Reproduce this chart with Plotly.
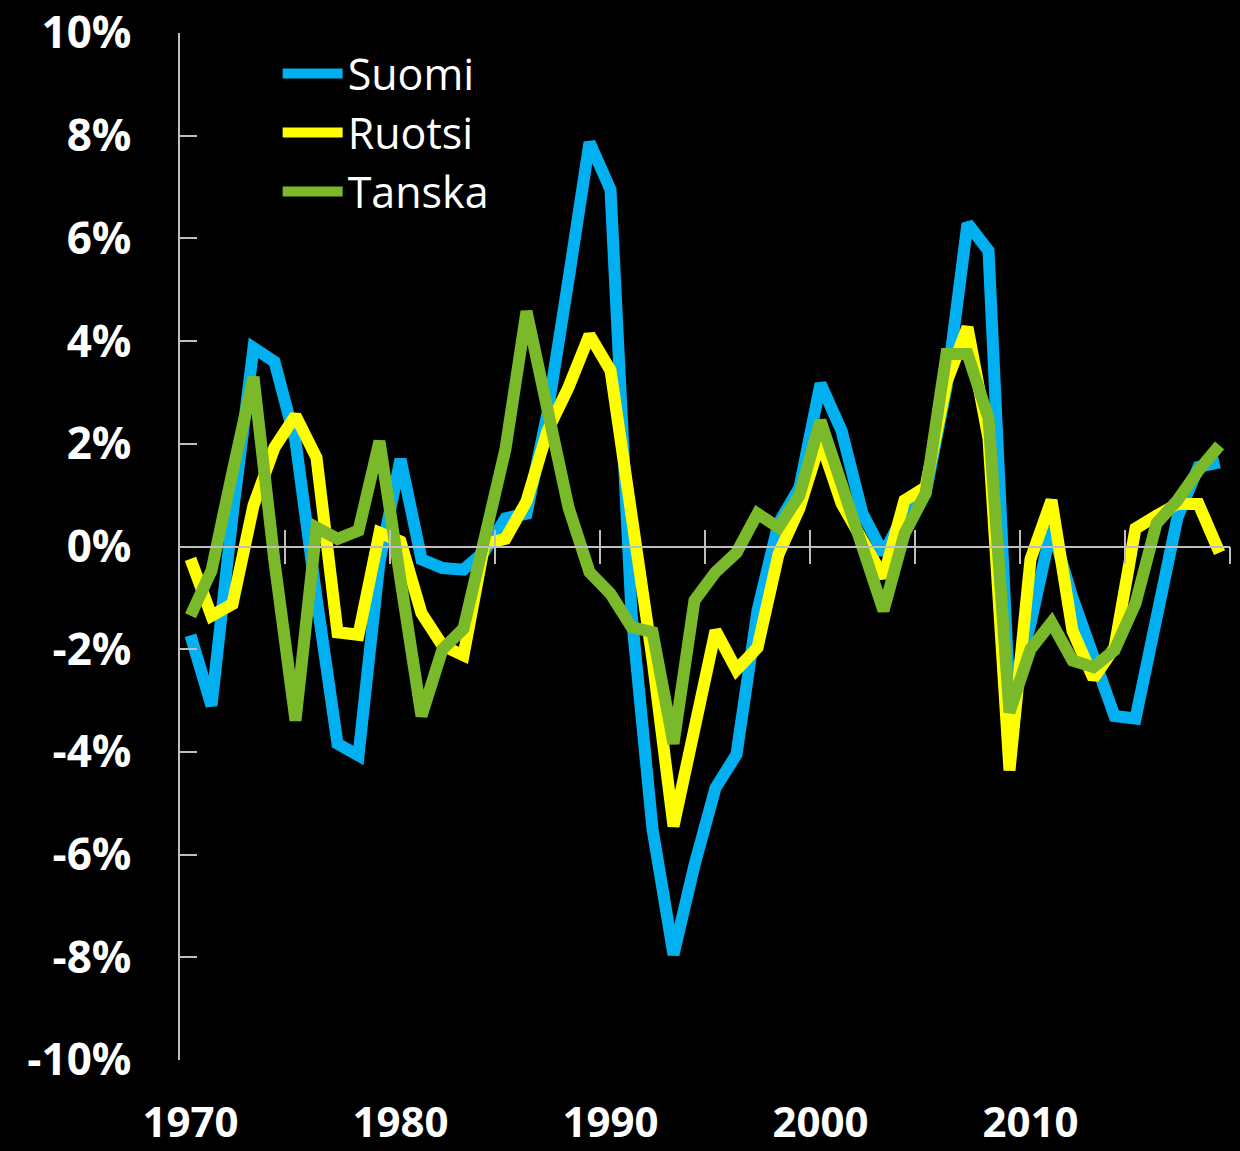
import plotly.graph_objects as go

years = list(range(1970, 2020))

suomi = [-1.73, -3.1, 0.6, 3.87, 3.6, 2.05, -1.0, -3.84, -4.07, -0.3,
         1.7, -0.25, -0.42, -0.45, -0.1, 0.55, 0.64, 2.6, 5.2, 7.87,
         6.95, -1.3, -5.5, -7.95, -6.2, -4.7, -4.05, -1.25, 0.45, 1.15,
         3.17, 2.26, 0.64, -0.14, 0.65, 1.03, 3.1, 6.29, 5.76, -3.0,
         -1.5, 0.37, -1.0, -2.2, -3.3, -3.35, -1.38, 0.57, 1.55, 1.64]

ruotsi = [-0.24, -1.35, -1.12, 0.8, 1.93, 2.55, 1.73, -1.67, -1.72, 0.27,
          0.1, -1.3, -1.93, -2.12, 0.05, 0.15, 0.88, 2.25, 3.1, 4.12,
          3.43, 0.8, -2.2, -5.45, -3.45, -1.64, -2.4, -1.97, -0.15, 0.75,
          2.06, 0.84, 0.12, -0.6, 0.9, 1.15, 3.2, 4.27, 2.1, -4.36,
          -0.25, 0.9, -1.64, -2.57, -1.97, 0.35, 0.6, 0.83, 0.83, -0.12]

tanska = [-1.35, -0.47, 1.45, 3.3, -0.3, -3.39, 0.37, 0.15, 0.31, 2.05,
          -0.65, -3.3, -2.0, -1.6, 0.15, 1.9, 4.58, 2.7, 0.76, -0.5,
          -0.92, -1.57, -1.67, -3.84, -1.05, -0.5, -0.12, 0.64, 0.37, 1.0,
          2.45, 1.22, 0.06, -1.25, 0.25, 1.03, 3.75, 3.75, 2.5, -3.23,
          -2.0, -1.48, -2.22, -2.35, -2.02, -1.11, 0.45, 0.9, 1.48, 1.97]

series_names = ["Suomi", "Ruotsi", "Tanska"]
series_colors = ["#00B0F0", "#FFFF00", "#7AB929"]

y_ticks = [-10, -8, -6, -4, -2, 0, 2, 4, 6, 8, 10]
x_label_years = [1970, 1980, 1990, 2000, 2010]
x_tick_marks = [1974.5, 1979.5, 1984.5, 1989.5, 1994.5, 1999.5,
                2004.5, 2009.5, 2014.5, 2019.5]

axis_color = "#BFBFBF"

fig = go.Figure()
for name, vals, col in zip(series_names, [suomi, ruotsi, tanska], series_colors):
    fig.add_trace(go.Scatter(x=years, y=vals, mode="lines", name=name,
                             line=dict(color=col, width=12)))

# empty helper traces so the zero-line tick axes are drawn
for ax in ["x2", "x3"]:
    fig.add_trace(go.Scatter(x=[None], y=[None], xaxis=ax, yaxis="y",
                             mode="lines", showlegend=False, hoverinfo="skip"))

fig.update_layout(
    width=1240, height=1151,
    paper_bgcolor="black", plot_bgcolor="black",
    margin=dict(l=180, r=10, t=33, b=91, autoexpand=False),
    showlegend=True,
    legend=dict(x=0.093, y=0.994, xanchor="left", yanchor="top",
                bgcolor="rgba(0,0,0,0)", itemwidth=60,
                font=dict(family="Open Sans", size=43, color="white"),
                tracegroupgap=0),
    xaxis=dict(range=[1969.5, 2019.5], tickvals=x_label_years,
               ticktext=[str(v) for v in x_label_years], automargin=False,
               showgrid=False, zeroline=False, showline=False, ticks="",
               tickfont=dict(family="Open Sans", size=42, color="white", weight="bold"),
               ticklabelstandoff=34),
    xaxis2=dict(overlaying="x", range=[1969.5, 2019.5], anchor="free", position=0.5,
                tickvals=x_tick_marks, showticklabels=False, showgrid=False,
                automargin=False,
                zeroline=False, showline=True, linecolor=axis_color, linewidth=1.5,
                ticks="outside", ticklen=17, tickcolor=axis_color, tickwidth=1.5),
    xaxis3=dict(overlaying="x", range=[1969.5, 2019.5], anchor="free", position=0.5,
                tickvals=x_tick_marks, showticklabels=False, showgrid=False,
                automargin=False,
                zeroline=False, showline=False,
                ticks="inside", ticklen=17, tickcolor=axis_color, tickwidth=1.5),
    yaxis=dict(range=[-10, 10], tickvals=y_ticks, automargin=False,
               ticktext=[f"{v}%" for v in y_ticks],
               showgrid=False, zeroline=False, showline=True,
               linecolor=axis_color, linewidth=1.5,
               ticks="inside", ticklen=17, tickcolor=axis_color, tickwidth=1.5,
               tickfont=dict(family="Open Sans", size=44, color="white", weight="bold"),
               ticklabelstandoff=38),
)

fig.write_html(
    "out.html",
    config={"displayModeBar": False},
    post_script="document.body.style.margin='0';document.body.style.background='black';",
)
